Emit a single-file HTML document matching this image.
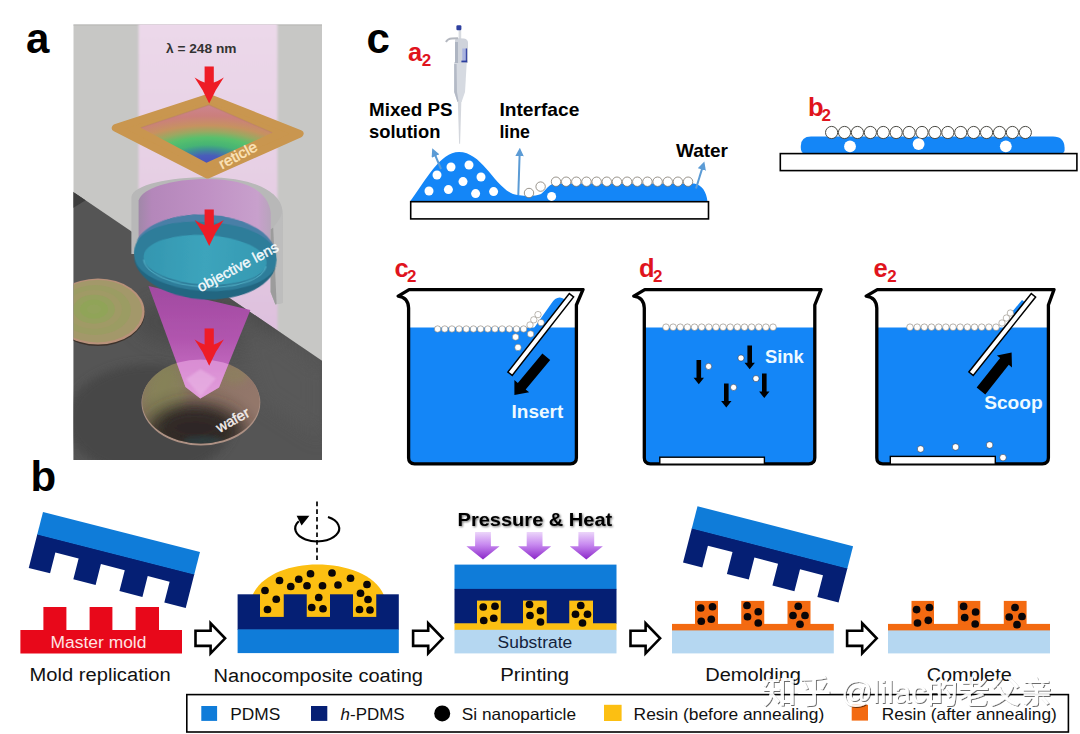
<!DOCTYPE html>
<html lang="en"><head><meta charset="utf-8"><title>Figure</title>
<style>
html,body{margin:0;padding:0;background:#fff;}
body{width:1080px;height:734px;overflow:hidden;font-family:"Liberation Sans","Noto Sans CJK SC",sans-serif;}
svg{display:block;}
text{font-family:"Liberation Sans","Noto Sans CJK SC",sans-serif;}
</style></head><body>
<svg width="1080" height="734" viewBox="0 0 1080 734">
<defs>

<clipPath id="clipA"><rect x="73.5" y="24.5" width="248.5" height="435.5"/></clipPath>
<filter id="bl05" x="-10%" y="-10%" width="120%" height="120%"><feGaussianBlur stdDeviation="0.6"/></filter>
<filter id="bl1" x="-10%" y="-10%" width="120%" height="120%"><feGaussianBlur stdDeviation="1.2"/></filter>
<filter id="bl2" x="-20%" y="-20%" width="140%" height="140%"><feGaussianBlur stdDeviation="2.5"/></filter>
<filter id="bl4" x="-30%" y="-30%" width="160%" height="160%"><feGaussianBlur stdDeviation="5"/></filter>
<filter id="bl8" x="-30%" y="-30%" width="160%" height="160%"><feGaussianBlur stdDeviation="9"/></filter>
<linearGradient id="beamG" x1="0" y1="0" x2="0" y2="1">
 <stop offset="0" stop-color="#ecd9ea"/><stop offset="0.45" stop-color="#e6cfe4"/><stop offset="1" stop-color="#dcbcdc"/>
</linearGradient>
<linearGradient id="coneG" x1="0" y1="0" x2="0" y2="1">
 <stop offset="0" stop-color="#a64aa6"/><stop offset="0.45" stop-color="#b755b4"/><stop offset="0.75" stop-color="#c96bc6"/><stop offset="1" stop-color="#dc92d6"/>
</linearGradient>
<radialGradient id="retG" gradientUnits="userSpaceOnUse" cx="207.5" cy="164" r="60" gradientTransform="translate(207.5,164) scale(2.3,1) translate(-207.5,-164)">
 <stop offset="0" stop-color="#4852bc"/><stop offset="0.14" stop-color="#4a5cba"/><stop offset="0.24" stop-color="#3f8e96"/><stop offset="0.32" stop-color="#46b474"/>
 <stop offset="0.44" stop-color="#58c06c"/><stop offset="0.54" stop-color="#9aa862"/><stop offset="0.64" stop-color="#c69260"/><stop offset="0.8" stop-color="#cb7f7c"/><stop offset="1" stop-color="#cc8590"/>
</radialGradient>
<radialGradient id="waferL" cx="0.42" cy="0.45" r="0.6">
 <stop offset="0" stop-color="#8c9a5c"/><stop offset="0.18" stop-color="#97a062"/><stop offset="0.3" stop-color="#8d9a5f"/>
 <stop offset="0.45" stop-color="#9a9a66"/><stop offset="0.6" stop-color="#9d9168"/><stop offset="0.8" stop-color="#a38b6e"/><stop offset="1" stop-color="#a8876f"/>
</radialGradient>
<linearGradient id="waferM" x1="0" y1="0" x2="1" y2="0.25">
 <stop offset="0" stop-color="#8a7660"/><stop offset="0.25" stop-color="#867a5c"/><stop offset="0.5" stop-color="#8c7264"/><stop offset="1" stop-color="#93776b"/>
</linearGradient>
<radialGradient id="waferSh" cx="0.5" cy="0.85" r="0.55">
 <stop offset="0" stop-color="#2c2a2a" stop-opacity="0.95"/><stop offset="0.5" stop-color="#3a3230" stop-opacity="0.7"/><stop offset="1" stop-color="#3a3230" stop-opacity="0"/>
</radialGradient>
<linearGradient id="lensIn" x1="0" y1="0" x2="1" y2="0">
 <stop offset="0" stop-color="#3496b0"/><stop offset="0.5" stop-color="#3ca4bc"/><stop offset="1" stop-color="#3699b2"/>
</linearGradient>
<linearGradient id="cylIn" x1="0" y1="0" x2="1" y2="0">
 <stop offset="0" stop-color="#a088a8"/><stop offset="0.1" stop-color="#b487ba"/><stop offset="0.5" stop-color="#bf90c4"/><stop offset="0.9" stop-color="#c8a0cc"/><stop offset="1" stop-color="#b8a4bc"/>
</linearGradient>
<clipPath id="clipWafer"><ellipse cx="200.9" cy="401.4" rx="58.8" ry="42"/></clipPath>
<clipPath id="clipFloor"><path d="M73,191.8 L322.5,361 L322.5,461 L73,461 Z"/></clipPath>

<marker id="mkb" viewBox="0 0 10 10" refX="5" refY="5" markerWidth="4.4" markerHeight="4.2" orient="auto"><path d="M0,0 L10,5 L0,10 Z" fill="#5b9bd5"/></marker>
<linearGradient id="purG" x1="0" y1="0" x2="0" y2="1"><stop offset="0" stop-color="#ecd6fa"/><stop offset="0.45" stop-color="#c88af0"/><stop offset="1" stop-color="#8a26c8"/></linearGradient>
<filter id="tsh" x="-10%" y="-30%" width="120%" height="180%"><feGaussianBlur in="SourceAlpha" stdDeviation="1.3"/><feOffset dx="1.2" dy="1.6"/><feComponentTransfer><feFuncA type="linear" slope="0.55"/></feComponentTransfer><feMerge><feMergeNode/><feMergeNode in="SourceGraphic"/></feMerge></filter>
<filter id="wm" x="-5%" y="-20%" width="110%" height="150%"><feGaussianBlur in="SourceAlpha" stdDeviation="0.7"/><feOffset dx="1" dy="1.2"/><feComponentTransfer><feFuncA type="linear" slope="0.62"/></feComponentTransfer><feMerge><feMergeNode/><feMergeNode in="SourceGraphic"/></feMerge></filter>
</defs>
<rect x="0" y="0" width="1080" height="734" fill="#fff"/>
<!-- panel a : lithography illustration -->
<text transform="translate(26,53.4)" font-size="42" font-weight="bold" fill="#000" text-anchor="start" >a</text>
<g clip-path="url(#clipA)">
<rect x="73" y="24" width="250" height="437" fill="#c7c7c5"/>
<rect x="73" y="24" width="250" height="1.6" fill="#b9b9b7"/>
<rect x="138.5" y="20" width="139" height="350" fill="url(#beamG)" filter="url(#bl1)"/>
<path d="M73,191.8 L322.5,361 L322.5,461 L73,461 Z" fill="#555555"/>
<g clip-path="url(#clipFloor)">
<path d="M73,191.5 L86,200 L73,208 Z" fill="#3c3c3c" filter="url(#bl05)"/>
<ellipse cx="150" cy="420" rx="84" ry="56" fill="#474747" filter="url(#bl4)"/>
<ellipse cx="210" cy="322" rx="75" ry="26" fill="#4b4b4b" filter="url(#bl8)" opacity="0.9"/>
<path d="M225,300 L322,368 L322,440 L260,400 Z" fill="#5b5b5b" filter="url(#bl8)" opacity="0.7"/>
</g>
<g filter="url(#bl05)"><ellipse cx="98" cy="312.9" rx="46.8" ry="33" fill="#3c322c"/>
<ellipse cx="98" cy="311.6" rx="46.6" ry="33" fill="#b8917a"/>
<ellipse cx="97.6" cy="311.2" rx="44.6" ry="31.2" fill="#a3986a"/>
<ellipse cx="95" cy="310" rx="36" ry="25" fill="#9b9c63"/>
<ellipse cx="94" cy="309.4" rx="28" ry="19.5" fill="#a09a66"/>
<ellipse cx="94" cy="309.2" rx="21" ry="14.5" fill="#96a05e"/>
<ellipse cx="94" cy="309.2" rx="14" ry="9.6" fill="#90a459"/>
<ellipse cx="94" cy="309.2" rx="7" ry="4.8" fill="#93a35c"/></g>
<g filter="url(#bl05)"><ellipse cx="200.9" cy="402.8" rx="59.4" ry="42.6" fill="#ad9184"/>
<ellipse cx="200.9" cy="401.4" rx="58.8" ry="42" fill="url(#waferM)"/>
<g clip-path="url(#clipWafer)"><ellipse cx="166" cy="394" rx="20" ry="30" fill="#858a56" opacity="0.5" filter="url(#bl4)"/>
<ellipse cx="234" cy="374" rx="14" ry="10" fill="#8a8a58" opacity="0.45" filter="url(#bl4)"/>
<ellipse cx="196" cy="432" rx="50" ry="28" fill="#2c2624" opacity="0.9" filter="url(#bl8)"/>
<ellipse cx="194" cy="426" rx="32" ry="17" fill="#2e2826" opacity="0.6" filter="url(#bl4)"/>
<ellipse cx="203" cy="441" rx="20" ry="5" fill="#2a5a66" opacity="0.35" filter="url(#bl2)"/></g></g>
<g filter="url(#bl05)">
<path d="M131.4,254 L131.4,197 C133,184.5 170,177.2 207,177.2 C250,177.2 281,190 282.6,211 L282.6,303 L275.4,304.6 L270.6,292 L270.6,240 L139,240 L139,254 Z" fill="#b8b8b8"/>
<path d="M138.6,258 L138.6,200.5 C142,188 172,179 207,179 C246,179 268.5,191 270.8,213 L270.8,262 L139,262 Z" fill="url(#cylIn)"/>
<path d="M270.6,229.5 C276,225 281,218 282.6,211 L282.6,303 L275.4,304.6 L270.6,292 Z" fill="#bdbdbd"/>
<path d="M270.6,229.5 L273.2,227.4 L276.6,303.8 L275.4,304.6 L270.6,292 Z" fill="#9c9c9c"/>
</g>
<path d="M148.5,286 L250.4,310 L219,387.5 L200.3,398.6 L185.5,387 Z" fill="url(#coneG)" opacity="0.94" filter="url(#bl05)"/>
<g clip-path="url(#clipWafer)"><path d="M148.5,286 L250.4,310 L219,387.5 L200.3,398.6 L185.5,387 Z" fill="#e9a9e3" opacity="0.6"/>
<path d="M186,379 L200.5,369 L216,378.5 L200.5,396 Z" fill="#eab8e6" opacity="0.55" filter="url(#bl1)"/></g>
<g filter="url(#bl05)" transform="rotate(3.2 205.3 256)">
<ellipse cx="205.3" cy="256" rx="71.4" ry="41.4" fill="#2d7d9a"/>
<path d="M133.9,258 A71.4,41.4 0 0 0 276.7,258 A71.4,33 0 0 1 133.9,258 Z" fill="#216681"/>
<path d="M135.5,246 C142,226 176,214.8 206,214.8 C238,214.8 268,226 275,246 C264,229 238,222 205.3,222 C172,222 146,229 135.5,246 Z" fill="#4c80a8" opacity="0.95"/>
<ellipse cx="205.3" cy="259.8" rx="61.6" ry="24.8" fill="url(#lensIn)"/>
<path d="M143.9,263 A61.6,26 0 0 0 266.7,263" fill="none" stroke="#62c4d8" stroke-width="1.2" opacity="0.6"/>
</g>
<g filter="url(#bl05)">
<path d="M115.6,127.9 L208.4,97.6 L299.8,133.7 L207.6,174.8 Z" fill="#c9964f" stroke="#c9964f" stroke-width="7.6" stroke-linejoin="round"/>
<path d="M140.8,127.8 L209,105 L272.2,132.8 L206.5,162.8 Z" fill="url(#retG)"/>
<path d="M140.8,127.8 L209,105 L272.2,132.8" fill="none" stroke="#b8806a" stroke-width="1.2" opacity="0.5"/>
</g>
<path d="M204.6,66.5 L213.79999999999998,66.5 L213.79999999999998,82.4 Q218.2,81.0 223.79999999999998,77.4 Q215.2,89.4 209.2,103.6 Q203.2,89.4 194.6,77.4 Q200.2,81.0 204.6,82.4 Z" fill="#ee1d25" filter="url(#bl05)"/>
<path d="M204.6,209.4 L213.79999999999998,209.4 L213.79999999999998,225 Q218.2,223.6 223.79999999999998,220 Q215.2,232 209.2,246 Q203.2,232 194.6,220 Q200.2,223.6 204.6,225 Z" fill="#ee1d25" filter="url(#bl05)"/>
<path d="M204.6,328.6 L213.79999999999998,328.6 L213.79999999999998,344.6 Q218.2,343.20000000000005 223.79999999999998,339.6 Q215.2,351.6 209.2,365.8 Q203.2,351.6 194.6,339.6 Q200.2,343.20000000000005 204.6,344.6 Z" fill="#ee1d25" filter="url(#bl05)"/>
<text transform="translate(166,52.5)" font-size="13" font-weight="bold" fill="#333" text-anchor="start" textLength="70.5" lengthAdjust="spacingAndGlyphs" >λ = 248 nm</text>
<text transform="translate(222,169.4) rotate(-27.8)" font-size="15" font-weight="normal" fill="#fce4ba" text-anchor="start" textLength="41.5" lengthAdjust="spacingAndGlyphs" stroke="#fce4ba" stroke-width="0.4" stroke-linejoin="round">reticle</text>
<text transform="translate(200.6,292.2) rotate(-27.9)" font-size="14.7" font-weight="normal" fill="#f4f9fb" text-anchor="start" textLength="89.5" lengthAdjust="spacingAndGlyphs" stroke="#f4f9fb" stroke-width="0.4" stroke-linejoin="round">objective lens</text>
<text transform="translate(219.4,433) rotate(-29)" font-size="14.6" font-weight="normal" fill="#f4eeec" text-anchor="start" textLength="35.8" lengthAdjust="spacingAndGlyphs" stroke="#f4eeec" stroke-width="0.4" stroke-linejoin="round">wafer</text>
</g>
<!-- panel c : self assembly -->
<text transform="translate(366.5,52.6)" font-size="42" font-weight="bold" fill="#000" text-anchor="start" >c</text>
<text transform="translate(408,61)" font-size="25.5" font-weight="bold" fill="#e0141d" text-anchor="start" >a</text>
<text transform="translate(421.8,66)" font-size="17" font-weight="bold" fill="#e0141d" text-anchor="start" >2</text>
<g id="pipette" filter="url(#bl05)">
<path d="M457.6,93 L461.6,93 L460.1,143.7 L459.1,143.7 Z" fill="#d4d7dd"/>
<path d="M454.2,62 L454.2,92 L457.5,102 L461.6,102 L465,92 L466.8,62 Z" fill="#d6dae1"/>
<path d="M454.2,64 L456.6,64 L457,92 L458.5,101 L457.5,102 L454.2,92 Z" fill="#b4bac6"/>
<rect x="458.6" y="29.5" width="2.6" height="10" fill="#d8dbe0"/>
<path d="M455,40.5 Q455,38.2 458,38.2 L464,38.6 Q468,39.4 468,43 L468,63 L455,63 Z" fill="#cfd3db"/>
<path d="M455,42 L458,42 L458,63 L455,63 Z" fill="#aeb5c2"/>
<path d="M446,42 Q447.5,38.6 452,38.4 L458,38.2" fill="none" stroke="#b4b8c0" stroke-width="2"/>
<rect x="462.3" y="48.5" width="4.6" height="13.6" fill="#a9b3df"/>
<rect x="465.8" y="48.5" width="1.3" height="13.6" fill="#3a49a4"/>
<rect x="461.4" y="60.6" width="5.7" height="1.7" fill="#2c3e9e"/>
<rect x="456.4" y="25.2" width="5" height="5" rx="1.2" fill="#2d3f9f"/>
</g>
<text transform="translate(369,115.6)" font-size="18.5" font-weight="bold" fill="#000" text-anchor="start" textLength="83.6" lengthAdjust="spacingAndGlyphs" >Mixed PS</text>
<text transform="translate(369,138)" font-size="18.5" font-weight="bold" fill="#000" text-anchor="start" textLength="71.4" lengthAdjust="spacingAndGlyphs" >solution</text>
<text transform="translate(499.4,115.6)" font-size="18.5" font-weight="bold" fill="#000" text-anchor="start" textLength="80" lengthAdjust="spacingAndGlyphs" >Interface</text>
<text transform="translate(499.4,138)" font-size="18.5" font-weight="bold" fill="#000" text-anchor="start" textLength="30.6" lengthAdjust="spacingAndGlyphs" >line</text>
<text transform="translate(676,157)" font-size="18.5" font-weight="bold" fill="#000" text-anchor="start" textLength="52" lengthAdjust="spacingAndGlyphs" >Water</text>
<path d="M410,201.5 C426,180 440,152 459,152 C482,152 494,186 513,194 C520,196.4 536,196.5 541,194 C546,190 549,183.5 556,183.5 L694,183.5 C702,184.5 706.5,192 707.5,201.5 Z" fill="#1486f7"/>
<rect x="410.7" y="201.7" width="297.8" height="17.2" fill="#fff" stroke="#000" stroke-width="1.6"/>
<circle cx="451.00" cy="167.00" r="4.5" fill="#fff"/>
<circle cx="469.00" cy="165.00" r="4.5" fill="#fff"/>
<circle cx="437.00" cy="175.00" r="4.5" fill="#fff"/>
<circle cx="481.00" cy="177.00" r="4.5" fill="#fff"/>
<circle cx="463.00" cy="181.60" r="4.5" fill="#fff"/>
<circle cx="429.00" cy="191.00" r="4.5" fill="#fff"/>
<circle cx="448.40" cy="189.60" r="4.5" fill="#fff"/>
<circle cx="475.60" cy="193.60" r="4.5" fill="#fff"/>
<circle cx="493.60" cy="191.60" r="4.5" fill="#fff"/>
<circle cx="529.00" cy="193.00" r="4.7" fill="#fff" stroke="#6e675c" stroke-width="0.7"/>
<circle cx="540.60" cy="186.60" r="4.7" fill="#fff" stroke="#6e675c" stroke-width="0.7"/>
<circle cx="551.60" cy="196.40" r="4.5" fill="#fff"/>
<circle cx="556.00" cy="181.70" r="4.7" fill="#fff" stroke="#6e675c" stroke-width="0.7"/>
<circle cx="566.16" cy="181.70" r="4.7" fill="#fff" stroke="#6e675c" stroke-width="0.7"/>
<circle cx="576.32" cy="181.70" r="4.7" fill="#fff" stroke="#6e675c" stroke-width="0.7"/>
<circle cx="586.48" cy="181.70" r="4.7" fill="#fff" stroke="#6e675c" stroke-width="0.7"/>
<circle cx="596.64" cy="181.70" r="4.7" fill="#fff" stroke="#6e675c" stroke-width="0.7"/>
<circle cx="606.80" cy="181.70" r="4.7" fill="#fff" stroke="#6e675c" stroke-width="0.7"/>
<circle cx="616.96" cy="181.70" r="4.7" fill="#fff" stroke="#6e675c" stroke-width="0.7"/>
<circle cx="627.12" cy="181.70" r="4.7" fill="#fff" stroke="#6e675c" stroke-width="0.7"/>
<circle cx="637.28" cy="181.70" r="4.7" fill="#fff" stroke="#6e675c" stroke-width="0.7"/>
<circle cx="647.44" cy="181.70" r="4.7" fill="#fff" stroke="#6e675c" stroke-width="0.7"/>
<circle cx="657.60" cy="181.70" r="4.7" fill="#fff" stroke="#6e675c" stroke-width="0.7"/>
<circle cx="667.76" cy="181.70" r="4.7" fill="#fff" stroke="#6e675c" stroke-width="0.7"/>
<circle cx="677.92" cy="181.70" r="4.7" fill="#fff" stroke="#6e675c" stroke-width="0.7"/>
<circle cx="688.08" cy="181.70" r="4.7" fill="#fff" stroke="#6e675c" stroke-width="0.7"/>
<line x1="441" y1="169" x2="433.9" y2="152.2" stroke="#5b9bd5" stroke-width="2" marker-end="url(#mkb)"/>
<line x1="518.3" y1="195" x2="519.7" y2="152" stroke="#5b9bd5" stroke-width="2" marker-end="url(#mkb)"/>
<line x1="696" y1="188.5" x2="703.1" y2="165.4" stroke="#5b9bd5" stroke-width="2" marker-end="url(#mkb)"/>
<text transform="translate(808,115.6)" font-size="25.5" font-weight="bold" fill="#e0141d" text-anchor="start" >b</text>
<text transform="translate(821.5,121.4)" font-size="17" font-weight="bold" fill="#e0141d" text-anchor="start" >2</text>
<path d="M805,153.8 Q800.8,153 800.8,148 L800.8,146 Q801,136.5 811,136.5 L1053,136.5 Q1064.4,136.5 1064.6,148 L1064.6,150 Q1064.6,153 1061,153.8 Z" fill="#1486f7"/>
<rect x="780.3" y="153.6" width="296.6" height="17" fill="#fff" stroke="#000" stroke-width="1.6"/>
<circle cx="831.60" cy="132.50" r="6.1" fill="#fff" stroke="#4a4a44" stroke-width="1.0"/>
<circle cx="844.51" cy="132.50" r="6.1" fill="#fff" stroke="#4a4a44" stroke-width="1.0"/>
<circle cx="857.43" cy="132.50" r="6.1" fill="#fff" stroke="#4a4a44" stroke-width="1.0"/>
<circle cx="870.35" cy="132.50" r="6.1" fill="#fff" stroke="#4a4a44" stroke-width="1.0"/>
<circle cx="883.26" cy="132.50" r="6.1" fill="#fff" stroke="#4a4a44" stroke-width="1.0"/>
<circle cx="896.17" cy="132.50" r="6.1" fill="#fff" stroke="#4a4a44" stroke-width="1.0"/>
<circle cx="909.09" cy="132.50" r="6.1" fill="#fff" stroke="#4a4a44" stroke-width="1.0"/>
<circle cx="922.00" cy="132.50" r="6.1" fill="#fff" stroke="#4a4a44" stroke-width="1.0"/>
<circle cx="934.92" cy="132.50" r="6.1" fill="#fff" stroke="#4a4a44" stroke-width="1.0"/>
<circle cx="947.84" cy="132.50" r="6.1" fill="#fff" stroke="#4a4a44" stroke-width="1.0"/>
<circle cx="960.75" cy="132.50" r="6.1" fill="#fff" stroke="#4a4a44" stroke-width="1.0"/>
<circle cx="973.66" cy="132.50" r="6.1" fill="#fff" stroke="#4a4a44" stroke-width="1.0"/>
<circle cx="986.58" cy="132.50" r="6.1" fill="#fff" stroke="#4a4a44" stroke-width="1.0"/>
<circle cx="999.50" cy="132.50" r="6.1" fill="#fff" stroke="#4a4a44" stroke-width="1.0"/>
<circle cx="1012.41" cy="132.50" r="6.1" fill="#fff" stroke="#4a4a44" stroke-width="1.0"/>
<circle cx="1025.33" cy="132.50" r="6.1" fill="#fff" stroke="#4a4a44" stroke-width="1.0"/>
<circle cx="850.00" cy="146.40" r="5.9" fill="#fff"/>
<circle cx="918.60" cy="144.10" r="5.9" fill="#fff"/>
<circle cx="1005.80" cy="146.30" r="5.9" fill="#fff"/>
<text transform="translate(394.5,277)" font-size="25.5" font-weight="bold" fill="#e0141d" text-anchor="start" >c</text>
<text transform="translate(407,282)" font-size="17" font-weight="bold" fill="#e0141d" text-anchor="start" >2</text>
<path d="M408.6,327.4 L408.6,457.8 Q408.6,463.8 414.6,463.8 L570.4,463.8 Q576.4,463.8 576.4,457.8 L576.4,327.4 Z" fill="#1486f7"/>
<path d="M520,328 L534,328 L551,304 Q556,296 562,298 L566,300 L545,330 Z" fill="#1486f7"/>
<path d="M583,289.6 L409.1,289.6 L398.2,296.2 Q408.1,297.5 408.6,308 L408.6,457.8 Q408.6,463.8 414.6,463.8 L570.4,463.8 Q576.4,463.8 576.4,457.8 L576.4,305 L583,289.6" fill="none" stroke="#000" stroke-width="3.3" stroke-linejoin="round" stroke-linecap="round"/>
<circle cx="437.60" cy="329.00" r="3.2" fill="#fff" stroke="#7a7266" stroke-width="0.55"/>
<circle cx="444.77" cy="329.00" r="3.2" fill="#fff" stroke="#7a7266" stroke-width="0.55"/>
<circle cx="451.94" cy="329.00" r="3.2" fill="#fff" stroke="#7a7266" stroke-width="0.55"/>
<circle cx="459.11" cy="329.00" r="3.2" fill="#fff" stroke="#7a7266" stroke-width="0.55"/>
<circle cx="466.28" cy="329.00" r="3.2" fill="#fff" stroke="#7a7266" stroke-width="0.55"/>
<circle cx="473.45" cy="329.00" r="3.2" fill="#fff" stroke="#7a7266" stroke-width="0.55"/>
<circle cx="480.62" cy="329.00" r="3.2" fill="#fff" stroke="#7a7266" stroke-width="0.55"/>
<circle cx="487.79" cy="329.00" r="3.2" fill="#fff" stroke="#7a7266" stroke-width="0.55"/>
<circle cx="494.96" cy="329.00" r="3.2" fill="#fff" stroke="#7a7266" stroke-width="0.55"/>
<circle cx="502.13" cy="329.00" r="3.2" fill="#fff" stroke="#7a7266" stroke-width="0.55"/>
<circle cx="509.30" cy="329.00" r="3.2" fill="#fff" stroke="#7a7266" stroke-width="0.55"/>
<circle cx="516.47" cy="329.00" r="3.2" fill="#fff" stroke="#7a7266" stroke-width="0.55"/>
<circle cx="523.64" cy="329.00" r="3.2" fill="#fff" stroke="#7a7266" stroke-width="0.55"/>
<circle cx="530.00" cy="325.00" r="3.2" fill="#fff" stroke="#7a7266" stroke-width="0.5"/>
<circle cx="533.80" cy="319.80" r="3.2" fill="#fff" stroke="#7a7266" stroke-width="0.5"/>
<circle cx="538.00" cy="314.60" r="3.2" fill="#fff" stroke="#7a7266" stroke-width="0.5"/>
<circle cx="541.00" cy="322.60" r="3.2" fill="#fff" stroke="#7a7266" stroke-width="0.5"/>
<circle cx="530.60" cy="334.00" r="3.2" fill="#fff" stroke="#7a7266" stroke-width="0.5"/>
<circle cx="515.60" cy="337.00" r="3.2" fill="#fff" stroke="#7a7266" stroke-width="0.5"/>
<circle cx="518.00" cy="347.40" r="3.2" fill="#fff" stroke="#7a7266" stroke-width="0.5"/>
<path d="M569.3,293.6 L573.6,297 L512.2,375.4 L507.9,372 Z" fill="#fff" stroke="#000" stroke-width="1.5" stroke-linejoin="miter"/>
<g transform="translate(514.4,395) rotate(-50.2)"><path d="M0,0 L11.5,-9.6 L11.5,-5.1 L49.8,-5.1 L49.8,5.1 L11.5,5.1 L11.5,9.6 Z" fill="#000"/></g>
<text transform="translate(511.6,418)" font-size="18.5" font-weight="bold" fill="#eefaff" text-anchor="start" textLength="51.6" lengthAdjust="spacingAndGlyphs" >Insert</text>
<text transform="translate(639,277)" font-size="25.5" font-weight="bold" fill="#e0141d" text-anchor="start" >d</text>
<text transform="translate(653,282)" font-size="17" font-weight="bold" fill="#e0141d" text-anchor="start" >2</text>
<path d="M644.3,327.4 L644.3,457.8 Q644.3,463.8 650.3,463.8 L808.8,463.8 Q814.8,463.8 814.8,457.8 L814.8,327.4 Z" fill="#1486f7"/>
<path d="M821,289.6 L644.8,289.6 L633.8000000000001,296.2 Q643.8,297.5 644.3,308 L644.3,457.8 Q644.3,463.8 650.3,463.8 L808.8,463.8 Q814.8,463.8 814.8,457.8 L814.8,305 L821,289.6" fill="none" stroke="#000" stroke-width="3.3" stroke-linejoin="round" stroke-linecap="round"/>
<circle cx="666.00" cy="327.20" r="3.3" fill="#fff" stroke="#7a7266" stroke-width="0.55"/>
<circle cx="673.13" cy="327.20" r="3.3" fill="#fff" stroke="#7a7266" stroke-width="0.55"/>
<circle cx="680.27" cy="327.20" r="3.3" fill="#fff" stroke="#7a7266" stroke-width="0.55"/>
<circle cx="687.40" cy="327.20" r="3.3" fill="#fff" stroke="#7a7266" stroke-width="0.55"/>
<circle cx="694.54" cy="327.20" r="3.3" fill="#fff" stroke="#7a7266" stroke-width="0.55"/>
<circle cx="701.67" cy="327.20" r="3.3" fill="#fff" stroke="#7a7266" stroke-width="0.55"/>
<circle cx="708.81" cy="327.20" r="3.3" fill="#fff" stroke="#7a7266" stroke-width="0.55"/>
<circle cx="715.95" cy="327.20" r="3.3" fill="#fff" stroke="#7a7266" stroke-width="0.55"/>
<circle cx="723.08" cy="327.20" r="3.3" fill="#fff" stroke="#7a7266" stroke-width="0.55"/>
<circle cx="730.22" cy="327.20" r="3.3" fill="#fff" stroke="#7a7266" stroke-width="0.55"/>
<circle cx="737.35" cy="327.20" r="3.3" fill="#fff" stroke="#7a7266" stroke-width="0.55"/>
<circle cx="744.49" cy="327.20" r="3.3" fill="#fff" stroke="#7a7266" stroke-width="0.55"/>
<circle cx="751.62" cy="327.20" r="3.3" fill="#fff" stroke="#7a7266" stroke-width="0.55"/>
<circle cx="758.75" cy="327.20" r="3.3" fill="#fff" stroke="#7a7266" stroke-width="0.55"/>
<circle cx="765.89" cy="327.20" r="3.3" fill="#fff" stroke="#7a7266" stroke-width="0.55"/>
<circle cx="773.02" cy="327.20" r="3.3" fill="#fff" stroke="#7a7266" stroke-width="0.55"/>
<circle cx="741.00" cy="358.00" r="3.1" fill="#fff" stroke="#223" stroke-width="0.5"/>
<circle cx="708.60" cy="366.40" r="3.1" fill="#fff" stroke="#223" stroke-width="0.5"/>
<circle cx="756.00" cy="378.60" r="3.1" fill="#fff" stroke="#223" stroke-width="0.5"/>
<circle cx="733.60" cy="387.40" r="3.1" fill="#fff" stroke="#223" stroke-width="0.5"/>
<path d="M747.4000000000001,345.4 L752.0,345.4 L752.0,362.8 L754.9000000000001,362.8 L749.7,369.3 L744.5,362.8 L747.4000000000001,362.8 Z" fill="#000"/>
<path d="M696.5,360 L701.0999999999999,360 L701.0999999999999,377.7 L704.0,377.7 L698.8,384.2 L693.5999999999999,377.7 L696.5,377.7 Z" fill="#000"/>
<path d="M762.0,373.4 L766.5999999999999,373.4 L766.5999999999999,391.5 L769.5,391.5 L764.3,398 L759.0999999999999,391.5 L762.0,391.5 Z" fill="#000"/>
<path d="M724.0,383.5 L728.5999999999999,383.5 L728.5999999999999,401.1 L731.5,401.1 L726.3,407.6 L721.0999999999999,401.1 L724.0,401.1 Z" fill="#000"/>
<text transform="translate(765,363)" font-size="18.5" font-weight="bold" fill="#eefaff" text-anchor="start" textLength="38.8" lengthAdjust="spacingAndGlyphs" >Sink</text>
<rect x="659.8" y="457.2" width="104.6" height="7" fill="#fff" stroke="#000" stroke-width="1.4"/>
<text transform="translate(873.5,277)" font-size="25.5" font-weight="bold" fill="#e0141d" text-anchor="start" >e</text>
<text transform="translate(887.2,282)" font-size="17" font-weight="bold" fill="#e0141d" text-anchor="start" >2</text>
<path d="M876.8,327.4 L876.8,457.8 Q876.8,463.8 882.8,463.8 L1042.4,463.8 Q1048.4,463.8 1048.4,457.8 L1048.4,327.4 Z" fill="#1486f7"/>
<path d="M1012,312 L1022,300 L1026,303 L1016,316 Z" fill="#1486f7"/>
<path d="M1054,289.6 L877.3,289.6 L866.2,296.2 Q876.3,297.5 876.8,308 L876.8,457.8 Q876.8,463.8 882.8,463.8 L1042.4,463.8 Q1048.4,463.8 1048.4,457.8 L1048.4,305 L1054,289.6" fill="none" stroke="#000" stroke-width="3.3" stroke-linejoin="round" stroke-linecap="round"/>
<circle cx="910.00" cy="327.20" r="3.3" fill="#fff" stroke="#7a7266" stroke-width="0.55"/>
<circle cx="917.17" cy="327.20" r="3.3" fill="#fff" stroke="#7a7266" stroke-width="0.55"/>
<circle cx="924.34" cy="327.20" r="3.3" fill="#fff" stroke="#7a7266" stroke-width="0.55"/>
<circle cx="931.51" cy="327.20" r="3.3" fill="#fff" stroke="#7a7266" stroke-width="0.55"/>
<circle cx="938.68" cy="327.20" r="3.3" fill="#fff" stroke="#7a7266" stroke-width="0.55"/>
<circle cx="945.85" cy="327.20" r="3.3" fill="#fff" stroke="#7a7266" stroke-width="0.55"/>
<circle cx="953.02" cy="327.20" r="3.3" fill="#fff" stroke="#7a7266" stroke-width="0.55"/>
<circle cx="960.19" cy="327.20" r="3.3" fill="#fff" stroke="#7a7266" stroke-width="0.55"/>
<circle cx="967.36" cy="327.20" r="3.3" fill="#fff" stroke="#7a7266" stroke-width="0.55"/>
<circle cx="974.53" cy="327.20" r="3.3" fill="#fff" stroke="#7a7266" stroke-width="0.55"/>
<circle cx="981.70" cy="327.20" r="3.3" fill="#fff" stroke="#7a7266" stroke-width="0.55"/>
<circle cx="988.87" cy="327.20" r="3.3" fill="#fff" stroke="#7a7266" stroke-width="0.55"/>
<circle cx="996.04" cy="327.20" r="3.3" fill="#fff" stroke="#7a7266" stroke-width="0.55"/>
<circle cx="1002.00" cy="323.00" r="3.2" fill="#fff" stroke="#7a7266" stroke-width="0.5"/>
<circle cx="1006.40" cy="318.00" r="3.2" fill="#fff" stroke="#7a7266" stroke-width="0.5"/>
<circle cx="1010.40" cy="313.00" r="3.2" fill="#fff" stroke="#7a7266" stroke-width="0.5"/>
<path d="M1031.3,293.6 L1035.6,297 L973.2,375.4 L968.9,372 Z" fill="#fff" stroke="#000" stroke-width="1.5"/>
<g transform="translate(1011.6,352.4) rotate(128.4)"><path d="M0,0 L11.5,-9.6 L11.5,-5.5 L49.3,-5.5 L49.3,5.5 L11.5,5.5 L11.5,9.6 Z" fill="#000"/></g>
<text transform="translate(984.2,409.4)" font-size="18.5" font-weight="bold" fill="#eefaff" text-anchor="start" textLength="58.4" lengthAdjust="spacingAndGlyphs" >Scoop</text>
<rect x="890.3" y="456.4" width="105" height="7.8" fill="#fff" stroke="#000" stroke-width="1.4"/>
<circle cx="920.60" cy="449.00" r="3.3" fill="#fff" stroke="#223" stroke-width="0.5"/>
<circle cx="955.60" cy="447.00" r="3.3" fill="#fff" stroke="#223" stroke-width="0.5"/>
<circle cx="989.60" cy="445.00" r="3.3" fill="#fff" stroke="#223" stroke-width="0.5"/>
<circle cx="1003.00" cy="457.60" r="3.3" fill="#fff" stroke="#223" stroke-width="0.5"/>
<!-- panel b : nanoimprint flow -->
<text transform="translate(30.6,491.2)" font-size="42" font-weight="bold" fill="#000" text-anchor="start" >b</text>
<g transform="translate(43,512) rotate(14.3)">
<path d="M0,22.8 L162,22.8 L162,57.7 L139.9,57.7 L139.9,36.2 L117.3,36.2 L117.3,57.7 L93.6,57.7 L93.6,36.2 L69,36.2 L69,57.7 L46,57.7 L46,36.2 L22,36.2 L22,57.7 L0,57.7 L0,57.7 Z" fill="#051f74"/>
<rect x="0" y="0" width="162" height="23.3" fill="#0f7cd9"/>
</g>
<path d="M20.4,653.6 L20.4,630 L43.4,630 L43.4,607 L66.4,607 L66.4,630 L89.6,630 L89.6,607 L112.4,607 L112.4,630 L135.6,630 L135.6,607 L159,607 L159,630 L182,630 L182,653.6 Z" fill="#e8081a"/>
<text transform="translate(50.6,647.6) scale(1,0.95)" font-size="17" font-weight="normal" fill="#ffe3e3" text-anchor="start" textLength="95.8" lengthAdjust="spacingAndGlyphs" >Master mold</text>
<text transform="translate(29.6,681.2) scale(1,0.93)" font-size="20" font-weight="normal" fill="#111" text-anchor="start" textLength="141" lengthAdjust="spacingAndGlyphs" >Mold replication</text>
<path d="M195.5,630.6999999999999 L210.6,630.6999999999999 L210.6,623.3 L225.1,638.3 L210.6,653.3 L210.6,645.9 L195.5,645.9 Z" fill="#fff" stroke="#000" stroke-width="2.6" stroke-linejoin="miter"/>
<path d="M252.5,595 C262,574.5 290,564.6 317,564.6 C346,564.6 375,574.5 383.8,595 Z" fill="#fcbf12"/>
<rect x="237.6" y="594.3" width="161.2" height="35.6" fill="#051f74"/>
<rect x="237.6" y="629.4" width="161.2" height="23.7" fill="#0f7cd9"/>
<rect x="260" y="593.6" width="23.75" height="23.3" fill="#fcbf12"/>
<rect x="306.75" y="593.6" width="23.25" height="23.3" fill="#fcbf12"/>
<rect x="353" y="593.6" width="23.25" height="23.3" fill="#fcbf12"/>
<circle cx="265" cy="590.5" r="3.85" fill="#0a0608"/>
<circle cx="279.5" cy="580.5" r="3.85" fill="#0a0608"/>
<circle cx="276.25" cy="599.25" r="3.85" fill="#0a0608"/>
<circle cx="267.5" cy="609.5" r="3.85" fill="#0a0608"/>
<circle cx="290.75" cy="586.5" r="3.85" fill="#0a0608"/>
<circle cx="298.75" cy="579.25" r="3.85" fill="#0a0608"/>
<circle cx="310.5" cy="573.75" r="3.85" fill="#0a0608"/>
<circle cx="307" cy="585.75" r="3.85" fill="#0a0608"/>
<circle cx="322.5" cy="585.75" r="3.85" fill="#0a0608"/>
<circle cx="332" cy="573" r="3.85" fill="#0a0608"/>
<circle cx="318.75" cy="597.5" r="3.85" fill="#0a0608"/>
<circle cx="311.75" cy="607.5" r="3.85" fill="#0a0608"/>
<circle cx="323" cy="608.75" r="3.85" fill="#0a0608"/>
<circle cx="338" cy="585" r="3.85" fill="#0a0608"/>
<circle cx="350.5" cy="578.25" r="3.85" fill="#0a0608"/>
<circle cx="367" cy="584.5" r="3.85" fill="#0a0608"/>
<circle cx="360.5" cy="593.25" r="3.85" fill="#0a0608"/>
<circle cx="368" cy="599.5" r="3.85" fill="#0a0608"/>
<circle cx="359.5" cy="609.5" r="3.85" fill="#0a0608"/>
<circle cx="370" cy="610" r="3.85" fill="#0a0608"/>
<line x1="317" y1="501.6" x2="317" y2="560" stroke="#000" stroke-width="1.7" stroke-dasharray="4.6,3.1"/>
<path d="M328,517.1 A22,13 0 1 1 298.8,521.3" fill="none" stroke="#000" stroke-width="2.1"/>
<path d="M296.6,515.8 L309.4,515.8 L301.6,525.4 Z" fill="#000"/>
<text transform="translate(213.6,681.6) scale(1,0.93)" font-size="20" font-weight="normal" fill="#111" text-anchor="start" textLength="209.4" lengthAdjust="spacingAndGlyphs" >Nanocomposite coating</text>
<path d="M413.1,630.6999999999999 L428.2,630.6999999999999 L428.2,623.3 L442.7,638.3 L428.2,653.3 L428.2,645.9 L413.1,645.9 Z" fill="#fff" stroke="#000" stroke-width="2.6" stroke-linejoin="miter"/>
<text transform="translate(457.6,526.3) scale(1,0.93)" font-size="20" font-weight="bold" fill="#000" text-anchor="start" textLength="154.6" lengthAdjust="spacingAndGlyphs" filter="url(#tsh)">Pressure &amp; Heat</text>
<path d="M475.1,532 L490.9,532 L490.9,546.3 L499.6,546.3 L483,559.6 L466.4,546.3 L475.1,546.3 Z" fill="url(#purG)"/>
<path d="M526.7,532 L542.5,532 L542.5,546.3 L551.2,546.3 L534.6,559.6 L518.0,546.3 L526.7,546.3 Z" fill="url(#purG)"/>
<path d="M578.4,532 L594.1999999999999,532 L594.1999999999999,546.3 L602.9,546.3 L586.3,559.6 L569.6999999999999,546.3 L578.4,546.3 Z" fill="url(#purG)"/>
<rect x="454.5" y="564.6" width="162" height="24.9" fill="#0f7cd9"/>
<rect x="454.5" y="588.9" width="162" height="35" fill="#051f74"/>
<rect x="454.5" y="623.3" width="162" height="7" fill="#fcbf12"/>
<rect x="454.5" y="629.8" width="162" height="23.6" fill="#b5d7f1"/>
<rect x="477" y="600.6" width="23.75" height="23.4" fill="#fcbf12"/>
<rect x="523" y="600.6" width="23.75" height="23.4" fill="#fcbf12"/>
<rect x="569.25" y="600.6" width="23.75" height="23.4" fill="#fcbf12"/>
<circle cx="483.25" cy="607" r="3.85" fill="#0a0608"/>
<circle cx="495" cy="606.25" r="3.85" fill="#0a0608"/>
<circle cx="483.75" cy="620.5" r="3.85" fill="#0a0608"/>
<circle cx="493.75" cy="618.25" r="3.85" fill="#0a0608"/>
<circle cx="529.5" cy="604.5" r="3.85" fill="#0a0608"/>
<circle cx="540.5" cy="610.75" r="3.85" fill="#0a0608"/>
<circle cx="530" cy="615.5" r="3.85" fill="#0a0608"/>
<circle cx="540.5" cy="622" r="3.85" fill="#0a0608"/>
<circle cx="580.75" cy="605.5" r="3.85" fill="#0a0608"/>
<circle cx="575.5" cy="614.25" r="3.85" fill="#0a0608"/>
<circle cx="587.5" cy="614.25" r="3.85" fill="#0a0608"/>
<circle cx="582.5" cy="623" r="3.85" fill="#0a0608"/>
<text transform="translate(497.6,648.2) scale(1,0.96)" font-size="17" font-weight="normal" fill="#14233c" text-anchor="start" textLength="74.6" lengthAdjust="spacingAndGlyphs" >Substrate</text>
<text transform="translate(500.2,681.2) scale(1,0.93)" font-size="20" font-weight="normal" fill="#111" text-anchor="start" textLength="69" lengthAdjust="spacingAndGlyphs" >Printing</text>
<path d="M630.5,630.6999999999999 L645.6,630.6999999999999 L645.6,623.3 L660.1,638.3 L645.6,653.3 L645.6,645.9 L630.5,645.9 Z" fill="#fff" stroke="#000" stroke-width="2.6" stroke-linejoin="miter"/>
<g transform="translate(697.5,506.25) rotate(14.4)">
<path d="M0,22.5 L160.6,22.5 L160.6,58.2 L138.7,58.2 L138.7,35.6 L115,35.6 L115,58.2 L92.3,58.2 L92.3,35.6 L67.9,35.6 L67.9,58.2 L45.3,58.2 L45.3,35.6 L19.9,35.6 L19.9,58.2 L0,58.2 L0,58.2 Z" fill="#051f74"/>
<rect x="0" y="0" width="160.6" height="23" fill="#0f7cd9"/>
</g>
<rect x="672" y="629.9" width="161.79999999999995" height="23.5" fill="#b5d7f1"/>
<rect x="672" y="623.9" width="161.79999999999995" height="6.5" fill="#f36a11"/>
<rect x="695" y="600.9" width="23" height="23.5" fill="#f36a11"/>
<rect x="741.25" y="600.9" width="23.0" height="23.5" fill="#f36a11"/>
<rect x="787.5" y="600.9" width="23.0" height="23.5" fill="#f36a11"/>
<circle cx="700.75" cy="608" r="3.85" fill="#0a0608"/>
<circle cx="712.5" cy="606.75" r="3.85" fill="#0a0608"/>
<circle cx="701.25" cy="621.25" r="3.85" fill="#0a0608"/>
<circle cx="711.25" cy="619.25" r="3.85" fill="#0a0608"/>
<circle cx="747" cy="605.5" r="3.85" fill="#0a0608"/>
<circle cx="758.25" cy="611.75" r="3.85" fill="#0a0608"/>
<circle cx="747.5" cy="616.75" r="3.85" fill="#0a0608"/>
<circle cx="758.25" cy="623" r="3.85" fill="#0a0608"/>
<circle cx="798.25" cy="606.25" r="3.85" fill="#0a0608"/>
<circle cx="793" cy="615.5" r="3.85" fill="#0a0608"/>
<circle cx="805" cy="615.5" r="3.85" fill="#0a0608"/>
<circle cx="800" cy="624.25" r="3.85" fill="#0a0608"/>
<text transform="translate(705.2,681.2) scale(1,0.93)" font-size="20" font-weight="normal" fill="#111" text-anchor="start" textLength="95.8" lengthAdjust="spacingAndGlyphs" >Demolding</text>
<path d="M847.0999999999999,630.6999999999999 L862.1999999999999,630.6999999999999 L862.1999999999999,623.3 L876.6999999999999,638.3 L862.1999999999999,653.3 L862.1999999999999,645.9 L847.0999999999999,645.9 Z" fill="#fff" stroke="#000" stroke-width="2.6" stroke-linejoin="miter"/>
<rect x="888" y="629.9" width="162" height="23.5" fill="#b5d7f1"/>
<rect x="888" y="623.9" width="162" height="6.5" fill="#f36a11"/>
<rect x="911.5" y="600.9" width="22.5" height="23.5" fill="#f36a11"/>
<rect x="957.8" y="600.9" width="22.5" height="23.5" fill="#f36a11"/>
<rect x="1003.8" y="600.9" width="22.799999999999955" height="23.5" fill="#f36a11"/>
<circle cx="916.6" cy="609.6" r="3.85" fill="#0a0608"/>
<circle cx="929.4" cy="607.5" r="3.85" fill="#0a0608"/>
<circle cx="917.5" cy="623" r="3.85" fill="#0a0608"/>
<circle cx="928.3" cy="620.3" r="3.85" fill="#0a0608"/>
<circle cx="963.6" cy="606.4" r="3.85" fill="#0a0608"/>
<circle cx="975.6" cy="612" r="3.85" fill="#0a0608"/>
<circle cx="964.7" cy="617.6" r="3.85" fill="#0a0608"/>
<circle cx="975.2" cy="624" r="3.85" fill="#0a0608"/>
<circle cx="1015" cy="607.5" r="3.85" fill="#0a0608"/>
<circle cx="1009.2" cy="617" r="3.85" fill="#0a0608"/>
<circle cx="1022" cy="616.5" r="3.85" fill="#0a0608"/>
<circle cx="1017" cy="624.7" r="3.85" fill="#0a0608"/>
<text transform="translate(926.7,681.2) scale(1,0.93)" font-size="20" font-weight="normal" fill="#111" text-anchor="start" textLength="85" lengthAdjust="spacingAndGlyphs" >Complete</text>
<rect x="186.8" y="694.6" width="881.6" height="37.4" fill="#fff" stroke="#000" stroke-width="1.6"/>
<rect x="201.3" y="706" width="15.8" height="14.9" fill="#0f7cd9"/>
<text transform="translate(230.2,719.7) scale(1,0.97)" font-size="17" font-weight="normal" fill="#111" text-anchor="start" textLength="50" lengthAdjust="spacingAndGlyphs" >PDMS</text>
<rect x="311" y="706" width="16.3" height="14.9" fill="#051f74"/>
<text transform="translate(340.6,719.7) scale(1,0.97)" font-size="17" fill="#111" textLength="64" lengthAdjust="spacingAndGlyphs"><tspan font-style="italic">h</tspan>-PDMS</text>
<circle cx="442.2" cy="713.4" r="8" fill="#000"/>
<text transform="translate(461.8,719.7) scale(1,0.97)" font-size="17" font-weight="normal" fill="#111" text-anchor="start" textLength="114.2" lengthAdjust="spacingAndGlyphs" >Si nanoparticle</text>
<rect x="604" y="704.8" width="17.6" height="16.2" fill="#fcbf12"/>
<text transform="translate(633.6,719.7) scale(1,0.97)" font-size="17" font-weight="normal" fill="#111" text-anchor="start" textLength="190.6" lengthAdjust="spacingAndGlyphs" >Resin (before annealing)</text>
<rect x="851.7" y="704.8" width="16.3" height="15.8" fill="#f36a11"/>
<text transform="translate(881.8,719.7) scale(1,0.97)" font-size="17" font-weight="normal" fill="#111" text-anchor="start" textLength="175" lengthAdjust="spacingAndGlyphs" >Resin (after annealing)</text>
<g filter="url(#wm)" opacity="0.92" font-weight="500"><text x="762" y="703" font-size="33" fill="#fff" font-family="Liberation Sans, Noto Sans CJK SC, sans-serif" textLength="69" lengthAdjust="spacingAndGlyphs">知乎</text><text x="841" y="703" font-size="31" fill="#fff" font-family="Liberation Sans, Noto Sans CJK SC, sans-serif" textLength="211" lengthAdjust="spacingAndGlyphs">@lilac的老父亲</text></g>
</svg>
</body></html>
